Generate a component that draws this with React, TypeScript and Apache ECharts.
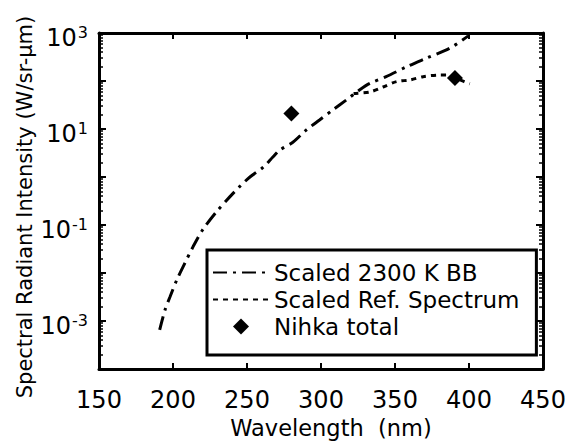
import React, { useEffect, useRef } from "react";
import * as echarts from "echarts";

// Scaled 2300 K blackbody (wavelength nm, W/sr-um)
const bbWavelength = [191, 194.6, 198, 202.5, 208, 213.5, 220, 229.5, 238.5, 245, 252, 261, 267.5, 272, 281, 290, 299, 308, 317, 326, 333, 344, 358, 371, 387, 399.5];
const bbIntensity = [6.5e-4, 1.7e-3, 3.2e-3, 7.1e-3, 0.016, 0.035, 0.079, 0.19, 0.39, 0.63, 1.0, 1.6, 2.6, 3.6, 5.3, 9.5, 15.4, 25, 40, 65, 89, 123, 199, 297, 482, 870];
// Scaled reference spectrum
const refWavelength = [322, 333, 342, 351, 360, 369, 380, 386, 394, 400.5];
const refIntensity = [55, 59, 75, 97, 105, 123, 133, 133, 105, 87];
// Nihka total
const nihkaWavelength = [280, 390.5];
const nihkaIntensity = [21, 115];

const xTicks = [150, 200, 250, 300, 350, 400, 450];
const xTitle = "Wavelength  (nm)";
const yTitle = "Spectral Radiant Intensity (W/sr-µm)";
const FONT = "DejaVu Sans";

export default function App() {
  const ref = useRef<HTMLDivElement>(null);
  useEffect(() => {
    if (!ref.current) return;
    const chart = echarts.init(ref.current, undefined, { renderer: "svg" });
    const pairs = (xs: number[], ys: number[]) => xs.map((x, i) => [x, ys[i]]);
    const mkLine = () => ({ show: true, lineStyle: { color: "#000", width: 3 } });
    const mkTick = (len: number) => ({ show: true, inside: true, length: len, lineStyle: { color: "#000", width: 2 } });
    const mkMinor = () => ({ show: true, splitNumber: 9, length: 4, lineStyle: { color: "#000", width: 1.5 } });
    const yLabelFmt = (v: number) => {
      const e = Math.round(Math.log10(v));
      if (e % 2 === 0) return "";
      return `{b|10}{s|${e}}`;
    };
    chart.setOption({
      animation: false,
      backgroundColor: "#fff",
      grid: { left: 99, right: 26, top: 33, bottom: 72 },
      xAxis: [
        {
          type: "value",
          min: xTicks[0],
          max: xTicks[xTicks.length - 1],
          interval: 50,
          position: "bottom",
          axisLine: mkLine(),
          axisTick: mkTick(6),
          axisLabel: { fontFamily: FONT, fontSize: 24, color: "#000", margin: 19 },
          splitLine: { show: false },
        },
        {
          type: "value",
          min: xTicks[0],
          max: xTicks[xTicks.length - 1],
          interval: 50,
          position: "top",
          axisLine: mkLine(),
          axisTick: mkTick(6),
          axisLabel: { show: false },
          splitLine: { show: false },
        },
      ],
      yAxis: [
        {
          type: "log",
          min: 1e-4,
          max: 1e3,
          position: "left",
          axisLine: mkLine(),
          axisTick: mkTick(7),
          minorTick: mkMinor(),
          axisLabel: {
            margin: 11,
            padding: [10, 0, 0, 0],
            formatter: yLabelFmt,
            rich: {
              b: { fontFamily: FONT, fontSize: 24, color: "#000" },
              s: { fontFamily: FONT, fontSize: 16, color: "#000", padding: [0, 0, 12, 1] },
            },
          },
          splitLine: { show: false },
        },
        {
          type: "log",
          min: 1e-4,
          max: 1e3,
          position: "right",
          axisLine: mkLine(),
          axisTick: mkTick(7),
          minorTick: mkMinor(),
          axisLabel: { show: false },
          splitLine: { show: false },
        },
      ],
      graphic: [
        {
          type: "text",
          x: 331,
          y: 428,
          style: { text: xTitle, fontFamily: FONT, fontSize: 22.5, fill: "#000", align: "center", verticalAlign: "middle" },
        },
        {
          type: "text",
          x: 25,
          y: 207,
          rotation: Math.PI / 2,
          style: { text: yTitle, fontFamily: FONT, fontSize: 21, fill: "#000", align: "center", verticalAlign: "middle" },
        },
      ],
      legend: {
        orient: "vertical",
        left: 207,
        top: 250,
        padding: [11, 17, 17, 5],
        itemWidth: 56,
        itemHeight: 16,
        itemGap: 4,
        symbolKeepAspect: true,
        borderColor: "#000",
        borderWidth: 3,
        backgroundColor: "#fff",
        textStyle: { fontFamily: FONT, fontSize: 23, color: "#000" },
        data: [
          { name: "Scaled 2300 K BB" },
          { name: "Scaled Ref. Spectrum" },
          { name: "Nihka total", icon: "path://M8,0 L16,8 L8,16 L0,8 Z" },
        ],
      },
      series: [
        {
          name: "Scaled 2300 K BB",
          type: "line",
          data: pairs(bbWavelength, bbIntensity),
          showSymbol: false,
          symbol: "none",
          smooth: 0.3,
          lineStyle: { color: "#000", width: 3, type: [14, 6, 3, 6] },
          itemStyle: { color: "rgba(0,0,0,0)" },
        },
        {
          name: "Scaled Ref. Spectrum",
          type: "line",
          data: pairs(refWavelength, refIntensity),
          showSymbol: false,
          symbol: "none",
          smooth: 0.3,
          lineStyle: { color: "#000", width: 3, type: [5, 5] },
          itemStyle: { color: "rgba(0,0,0,0)" },
        },
        {
          name: "Nihka total",
          type: "scatter",
          data: pairs(nihkaWavelength, nihkaIntensity),
          symbol: "diamond",
          symbolSize: 16,
          itemStyle: { color: "#000", opacity: 1 },
        },
      ],
    });
    return () => chart.dispose();
  }, []);
  return <div ref={ref} style={{ position: "fixed", left: 0, top: 0, width: 569, height: 441 }} />;
}
